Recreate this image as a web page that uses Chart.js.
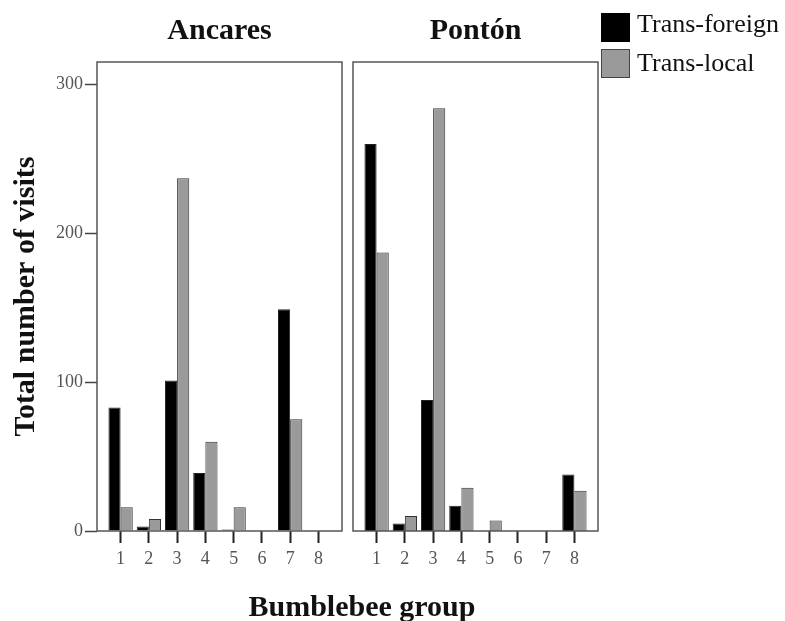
<!DOCTYPE html>
<html>
<head>
<meta charset="utf-8">
<script src="https://cdn.jsdelivr.net/npm/chart.js@4/dist/chart.umd.min.js"></script>
<style>
  body { margin: 0; background: #fff; }
  #wrap { position: relative; width: 785px; height: 621px; background: #fff; font-family: "Liberation Serif", serif; }
  .panel { position: absolute; top: 0; height: 621px; }
  #legend { position: absolute; left: 601px; top: 0; }
  .leg-item { position: absolute; left: 0; white-space: nowrap; }
  .leg-box { position: absolute; left: 0; width: 29px; height: 29px; box-sizing: border-box; }
  .leg-text { position: absolute; left: 36px; font-size: 26px; line-height: 30px; color: #111; }
  #xtitle { position: absolute; left: 162px; top: 591px; width: 400px; text-align: center;
            font-size: 30px; font-weight: bold; line-height: 30px; color: #111; }
</style>
</head>
<body>
<div id="wrap">
  <div class="panel" style="left:0;width:350px"><canvas id="ancares"></canvas></div>
  <div class="panel" style="left:350px;width:255px"><canvas id="ponton"></canvas></div>
  <div id="legend"></div>
  <div id="xtitle">Bumblebee group</div>
</div>
<script>
// data
var groups = [1, 2, 3, 4, 5, 6, 7, 8];
var ancaresForeign = [83, 3, 101, 39, 1, 0, 149, 0];
var ancaresLocal   = [16, 8, 237, 60, 16, 0, 75, 0];
var pontonForeign  = [260, 5, 88, 17, 0, 0, 0, 38];
var pontonLocal    = [187, 10, 284, 29, 7, 0, 0, 27];
var yTicks = [0, 100, 200, 300];
var seriesNames = ["Trans-foreign", "Trans-local"];
var seriesColors = ["#000000", "#9a9a9a"];

var serif = "'Liberation Serif', 'Times New Roman', serif";

// box round each panel
var framePlugin = {
  id: 'frame',
  afterDatasetsDraw: function (chart) {
    var a = chart.chartArea, c = chart.ctx;
    c.save();
    c.strokeStyle = '#555';
    c.lineWidth = 1.5;
    c.strokeRect(a.left, a.top, a.right - a.left, a.bottom - a.top);
    c.restore();
  }
};

function makePanel(id, title, foreign, local, showY, pad) {
  var ctx = document.getElementById(id);
  return new Chart(ctx, {
    type: 'bar',
    data: {
      labels: groups,
      datasets: [
        { label: seriesNames[0], data: foreign, backgroundColor: seriesColors[0], borderColor: '#222', borderWidth: 1 },
        { label: seriesNames[1], data: local, backgroundColor: seriesColors[1], borderColor: '#333', borderWidth: 1 }
      ]
    },
    options: {
      responsive: true,
      maintainAspectRatio: false,
      animation: false,
      devicePixelRatio: 1,
      categoryPercentage: 0.86,
      barPercentage: 1,
      layout: { padding: pad },
      plugins: {
        legend: { display: false },
        tooltip: { enabled: false },
        title: {
          display: true,
          text: title,
          fullSize: false,
          color: '#111',
          font: { family: serif, size: 30, weight: 'bold' },
          padding: { top: 13, bottom: 13 }
        }
      },
      scales: {
        x: {
          type: 'linear',
          offset: false,
          min: 0.165,
          max: 8.835,
          afterBuildTicks: function (s) { s.ticks = groups.map(function (g) { return { value: g }; }); },
          afterFit: function (s) { s.height = 90; },
          border: { display: false },
          grid: { offset: false, drawOnChartArea: false, drawTicks: true, tickLength: 12, tickColor: '#222', tickWidth: 2 },
          ticks: { color: '#555', padding: 5, font: { family: serif, size: 18 } }
        },
        y: {
          display: showY,
          min: 0,
          max: 315,
          afterBuildTicks: function (s) { s.ticks = yTicks.map(function (v) { return { value: v }; }); },
          afterFit: function (s) { s.width = showY ? 97 : 0; },
          border: { display: false },
          grid: { drawOnChartArea: false, drawTicks: true, tickLength: 12, tickColor: '#444', tickWidth: 1.5 },
          ticks: { color: '#555', padding: 2, font: { family: serif, size: 18 } },
          title: {
            display: true,
            text: 'Total number of visits',
            color: '#111',
            font: { family: serif, size: 30, weight: 'bold' },
            padding: { top: 8, bottom: 0 }
          }
        }
      }
    },
    plugins: [framePlugin]
  });
}

makePanel('ancares', 'Ancares', ancaresForeign, ancaresLocal, true, { left: 0, right: 8, top: 0, bottom: 0 });
makePanel('ponton', 'Pontón', pontonForeign, pontonLocal, false, { left: 3, right: 7, top: 0, bottom: 0 });

// legend built from the series
var legend = document.getElementById('legend');
var boxTops = [13, 49];
var textTops = [9, 48];
seriesNames.forEach(function (name, i) {
  var item = document.createElement('div');
  item.className = 'leg-item';
  var box = document.createElement('div');
  box.className = 'leg-box';
  box.style.top = boxTops[i] + 'px';
  box.style.background = seriesColors[i];
  box.style.border = '1.5px solid ' + (i === 0 ? '#000' : '#444');
  var txt = document.createElement('div');
  txt.className = 'leg-text';
  txt.style.top = textTops[i] + 'px';
  txt.textContent = name;
  item.appendChild(box);
  item.appendChild(txt);
  legend.appendChild(item);
});
</script>
</body>
</html>
